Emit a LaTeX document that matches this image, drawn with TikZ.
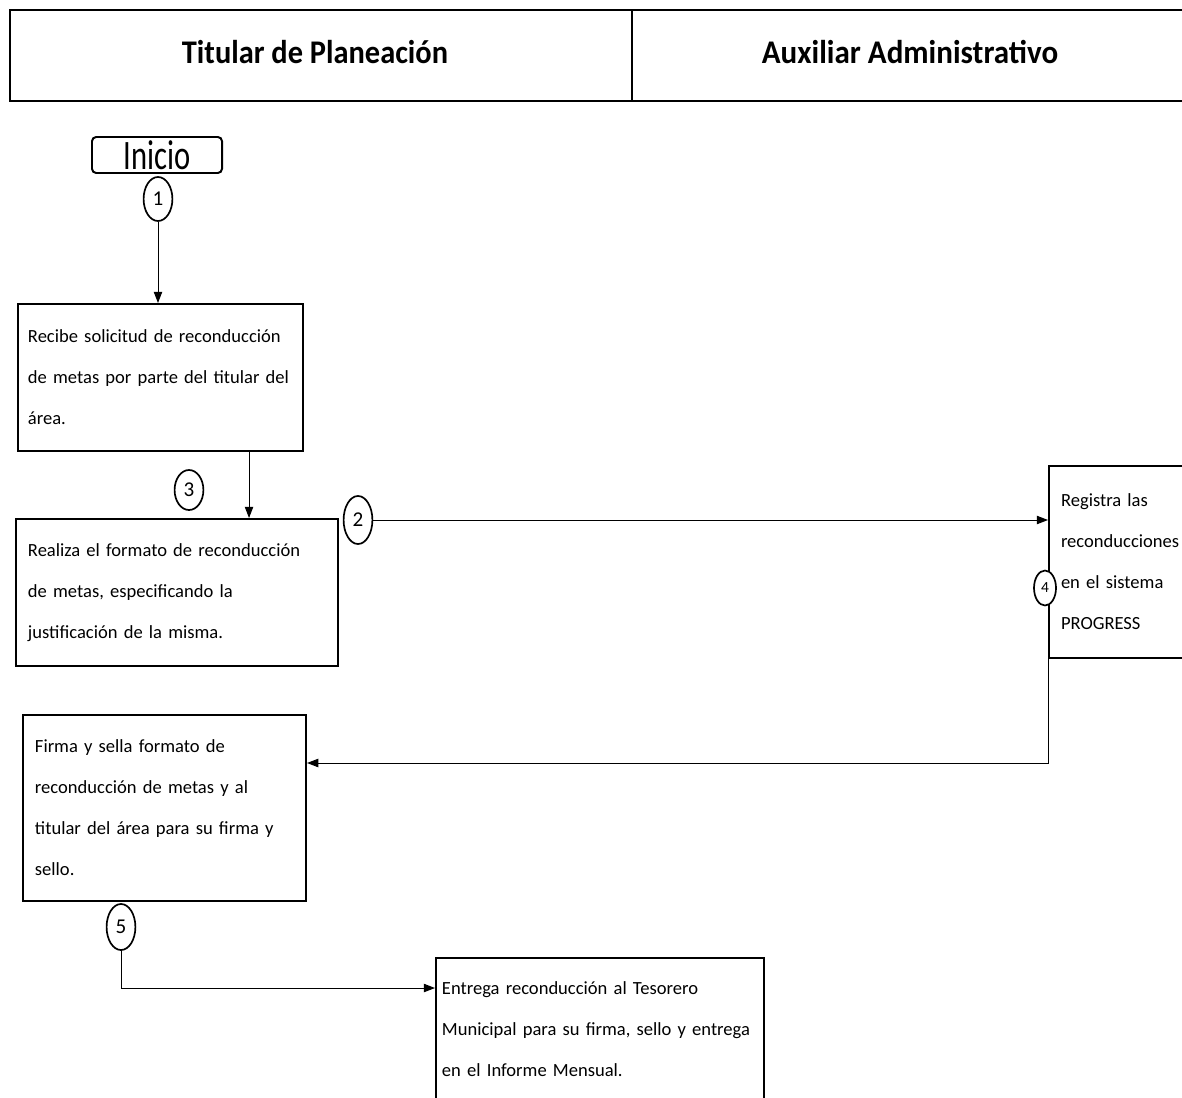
\documentclass[tikz,border=0pt]{standalone}
\usepackage{fontspec}
\setmainfont{Carlito}
\usetikzlibrary{arrows.meta,shapes.geometric}
\tikzstyle{paso} = [draw, line width=1.4pt, anchor=north west, align=left, inner xsep=.3cm, font=\fontsize{13.2}{29.2}\selectfont]
\tikzstyle{num} = [draw, ellipse, fill=white, line width=1.2pt, minimum width=.72cm, minimum height=1.1cm, inner sep=0pt, font=\fontsize{15}{15}\selectfont]
\tikzstyle{inicio} = [draw, rounded corners=3pt, line width=1.4pt, minimum width=3.25cm, minimum height=.9cm, inner sep=0pt, font=\fontsize{29.8}{30}\selectfont]
\tikzstyle{carril} = [anchor=base, font=\bfseries\fontsize{23.5}{23.5}\selectfont]
\tikzstyle{flecha} = [-{Triangle[length=8pt,width=6pt]}, line width=.7pt]

\begin{document}
\begin{tikzpicture}[x=.025cm, y=-.025cm]
    \useasboundingbox (0,0) rectangle (1182,1097);
    \clip (0,0) rectangle (1182,1097);
    % encabezado
    \draw [line width=2pt] (1200,10) -- (10,10) -- (10,101) -- (1200,101);
    \draw [line width=.8pt] (632,10) -- (632,101);
    \draw (315,64) node[carril] (tit) {\scalebox{.92}[1]{Titular de Planeación}};
    \draw (910,64) node[carril] (aux) {\scalebox{.94}[1]{Auxiliar Administrativo}};
    % pasos
    \draw (157,155) node[inicio] (ini) {\scalebox{.73}[1]{Inicio}};
    \draw (17,303) node[paso, inner xsep=.25cm, text width=6.625cm, minimum height=3.675cm] (b1) {Recibe solicitud de reconducción\\de metas por parte del titular del\\área.};
    \draw (15,518) node[paso, text width=7.45cm, minimum height=3.675cm] (b2) {Realiza el formato de reconducción\\de metas, especificando la\\justificación de la misma.};
    \draw (1048,465) node[paso, text width=3.6cm, minimum height=4.8cm] (b3) {Registra las\\reconducciones\\en el sistema\\PROGRESS};
    \draw (22,714) node[paso, text width=6.475cm, minimum height=4.65cm] (b4) {Firma y sella formato de\\reconducción de metas y al\\titular del área para su firma y\\sello.};
    \draw (435,957) node[paso, inner xsep=.15cm, text width=7.9cm, minimum height=3.55cm] (b5) {Entrega reconducción al Tesorero\\Municipal para su firma, sello y entrega\\en el Informe Mensual.};
    % numeros
    \draw (158,199) node[num] (c1) {1};
    \draw (358,520) node[num, minimum height=1.2cm] (c2) {2};
    \draw (189,490) node[num, minimum height=1cm] (c3) {3};
    \draw (1045,588) node[num, minimum width=.55cm, minimum height=.875cm, font=\fontsize{11}{11}\selectfont] (c4) {4};
    \draw (121,927) node[num, minimum height=1.15cm] (c5) {5};
    % flechas
    \draw [flecha] (c1) -- (c1 |- b1.north);
    \draw [flecha] ([xshift=-1.375cm]b1.south east) coordinate (p3) -- (p3 |- b2.north);
    \draw [flecha] (c2) -- (c2 -| b3.west);
    \draw [flecha] (b3.south west) |- ([yshift=1.125cm]b4.east);
    \draw [flecha] (c5) |- ([yshift=-.775cm]b5.north west);
\end{tikzpicture}
\end{document}
